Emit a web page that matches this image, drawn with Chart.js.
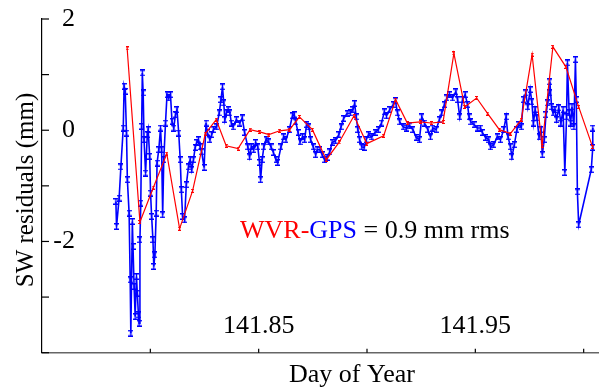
<!DOCTYPE html>
<html><head><meta charset="utf-8">
<script src="https://cdn.jsdelivr.net/npm/chart.js@4.4.1/dist/chart.umd.min.js"></script>
<style>html,body{margin:0;padding:0;background:#fff;overflow:hidden}canvas{display:block}</style>
</head><body>
<canvas id="c" width="604" height="387"></canvas>
<script>
// ---- data ----
const blueDays = [
141.7841,141.7844,141.7856,141.7864,141.7875,141.7879,141.7884,141.7890,141.7894,141.7902,
141.7907,141.7910,141.7917,141.7920,141.7925,141.7930,141.7936,141.7940,141.7945,141.7948,
141.7952,141.7956,141.7960,141.7963,141.7967,141.7971,141.7978,141.7986,141.7990,141.7997,
141.8001,141.8006,141.8012,141.8016,141.8021,141.8027,141.8031,141.8039,141.8047,141.8052,
141.8057,141.8062,141.8070,141.8077,141.8085,141.8093,141.8100,141.8108,141.8116,141.8123,
141.8131,141.8138,141.8143,141.8149,141.8158,
141.8166,141.8176,141.8184,141.8191,141.8199,141.8207,141.8214,141.8222,141.8230,141.8237,
141.8248,141.8257,141.8263,141.8275,141.8283,141.8291,141.8306,141.8318,141.8326,141.8333,
141.8339,141.8344,141.8351,141.8359,141.8367,141.8374,141.8382,141.8397,141.8413,141.8424,
141.8435,141.8450,141.8458,141.8466,141.8477,141.8486,141.8496,141.8504,141.8509,141.8516,
141.8524,141.8534,141.8546,141.8557,141.8568,141.8580,141.8588,141.8603,141.8615,141.8626,
141.8641,
141.8656,141.8664,141.8671,141.8682,141.8691,141.8702,141.8712,141.8721,141.8732,141.8740,
141.8752,141.8763,141.8770,141.8783,141.8793,141.8804,141.8816,141.8828,141.8839,141.8854,
141.8870,141.8880,141.8892,141.8908,141.8923,141.8935,141.8943,141.8950,141.8958,141.8966,
141.8976,141.8987,141.8996,141.9007,141.9022,141.9037,141.9052,
141.9067,141.9080,141.9090,141.9105,141.9121,141.9131,141.9141,141.9151,141.9167,141.9182,
141.9197,141.9212,141.9227,141.9242,141.9253,141.9265,141.9281,141.9293,141.9304,141.9319,
141.9334,141.9345,141.9357,141.9369,141.9380,141.9395,141.9410,141.9418,141.9428,141.9441,
141.9453,141.9464,141.9471,
141.9479,141.9494,141.9509,141.9524,141.9532,141.9547,141.9562,141.9570,141.9585,141.9601,
141.9616,141.9631,141.9642,141.9651,141.9662,141.9669,141.9680,141.9692,141.9699,141.9712,
141.9722,141.9733,141.9742,141.9753,141.9761,141.9768,141.9776,141.9784,141.9794,141.9803,
141.9809,141.9818,141.9826,141.9834,141.9840,141.9844,141.9852,141.9859,141.9867,141.9875,
141.9885,141.9895,141.9905,141.9913,141.9921,141.9925,141.9933,141.9940,141.9946,141.9955,
141.9962,141.9966,141.9971,141.9977,142.0035,142.0042,142.0042
];
const blueVals = [
-1.28,-1.73,-1.22,-0.66,0.04,0.79,0.70,-0.05,-0.89,-1.49,
-2.69,-3.65,-1.64,-2.09,-2.81,-3.35,-2.63,-2.93,-3.32,-3.47,
-1.97,-1.31,0.07,1.03,0.67,-0.17,-0.77,-0.08,0.01,-0.47,
-1.13,-1.55,-1.97,-2.45,-2.24,-1.49,-0.59,-0.35,0.04,-0.35,
-1.52,-0.53,0.13,0.64,0.58,0.64,0.16,0.04,0.28,0.37,
-0.05,-0.53,-1.07,-1.55,-1.61,
-0.98,-0.66,-0.53,-0.71,-0.53,-0.31,-0.22,-0.17,-0.30,-0.39,
-0.67,0.13,-0.04,-0.17,-0.08,0.01,0.06,0.31,0.55,0.78,
0.49,0.19,0.31,0.37,0.31,0.13,0.06,0.19,0.13,0.22,
-0.04,-0.30,-0.48,-0.30,-0.35,-0.22,-0.30,-0.58,-0.89,-0.53,
-0.30,-0.17,-0.21,-0.30,-0.40,-0.53,-0.58,-0.30,-0.12,-0.17,
0.01,
0.26,0.28,0.15,-0.04,-0.21,-0.12,-0.17,0.10,0.06,-0.17,
-0.30,-0.44,-0.35,-0.35,-0.44,-0.53,-0.49,-0.39,-0.22,-0.19,
-0.08,0.06,0.21,0.30,0.31,0.37,0.48,0.24,0.01,-0.17,
-0.30,-0.31,-0.17,-0.08,-0.12,-0.04,0.01,
0.13,0.33,0.26,0.37,0.46,0.53,0.31,0.15,0.06,0.04,
0.08,0.01,-0.13,-0.17,0.24,0.13,0.01,-0.12,0.04,0.01,
0.19,0.31,0.46,0.58,0.64,0.58,0.69,0.55,0.24,0.55,
0.64,0.46,0.24,
0.15,0.10,0.04,0.04,-0.04,-0.13,-0.17,-0.30,-0.26,-0.12,
-0.17,0.01,0.24,-0.12,-0.30,-0.48,-0.26,0.01,0.10,0.06,
0.55,0.67,0.42,0.73,0.51,0.13,0.37,0.22,-0.12,0.01,
-0.44,-0.17,0.28,0.49,0.67,0.87,0.42,0.31,0.37,0.19,
0.40,0.13,0.37,-0.76,0.24,1.21,0.31,0.13,0.42,0.06,
1.27,0.55,-1.11,-1.70,-0.71,-0.31,0.04
];
const redDays = [
141.7893,141.7952,141.8014,141.8076,141.8135,141.8195,141.8254,141.8304,141.8350,141.8405,
141.8460,141.8505,141.8547,141.8597,141.8643,141.8688,141.8748,141.8812,141.8871,141.8940,
141.8999,141.9077,141.9132,141.9186,141.9246,141.9296,141.9351,141.9401,141.9451,141.9506,
141.9557,141.9611,141.9662,141.9712,141.9762,141.9808,141.9858,141.9918,141.9977,142.0041
];
const redVals = [
1.47,-1.65,-1.03,-0.42,-1.77,-1.09,-0.06,0.19,-0.28,-0.33,
0.01,-0.03,-0.08,-0.01,0.01,0.24,0.01,-0.53,-0.22,0.26,
-0.24,-0.10,0.55,0.13,0.15,0.13,0.15,1.38,0.42,0.58,
0.30,0.01,-0.06,0.19,1.36,-0.28,1.50,1.14,0.42,-0.30
];
const xTickValues = [141.8, 141.85, 141.9, 141.95, 142.0];
const xTickLabels = ['', '141.85', '', '141.95', ''];
const yTickValues = [-4, -3, -2, -1, 0, 1, 2];
const yTickLabels = ['', '', '-2', '', '0', '', '2'];
const xTitle = 'Day of Year';
const yTitle = 'SW residuals (mm)';
const noteParts = [['WVR', '#ff0000'], ['-', '#ff0000'], ['GPS', '#0000ff'], [' = 0.9 mm rms', '#000000']];

// ---- presentation ----
const serif = "'Liberation Serif','Times New Roman',serif";

function marker(color, w, h, lw) {
  const c = document.createElement('canvas');
  c.width = w; c.height = h;
  const g = c.getContext('2d');
  g.strokeStyle = color; g.lineWidth = lw;
  g.beginPath();
  g.moveTo(w / 2, 0); g.lineTo(w / 2, h);
  g.moveTo(0, lw / 2); g.lineTo(w, lw / 2);
  g.moveTo(0, h - lw / 2); g.lineTo(w, h - lw / 2);
  g.stroke();
  return c;
}
const blueMark = marker('#0000ff', 5, 7, 1.4);
const redMark = marker('#ff0000', 3, 4, 1.1);

const resetPad = s => { s.paddingLeft = 0; s.paddingRight = 0; s.paddingTop = 0; s.paddingBottom = 0; };

const decor = {
  id: 'decor',
  afterDraw(chart) {
    const g = chart.ctx, a = chart.chartArea, xs = chart.scales.x, ys = chart.scales.y;
    g.save();
    g.strokeStyle = '#000'; g.lineWidth = 1.2;
    yTickValues.forEach(v => {
      const p = ys.getPixelForValue(v);
      g.beginPath(); g.moveTo(a.left, p); g.lineTo(a.left + 7, p); g.stroke();
    });
    xTickValues.forEach(v => {
      const p = xs.getPixelForValue(v);
      g.beginPath(); g.moveTo(p, a.bottom); g.lineTo(p, a.bottom - 4); g.stroke();
    });
    g.fillStyle = '#000';
    g.textBaseline = 'alphabetic';
    g.textAlign = 'center';
    g.font = '26px ' + serif;
    g.fillText(xTitle, 352, 382);
    g.textAlign = 'left';
    let x = 240;
    noteParts.forEach(([t, c]) => { g.fillStyle = c; g.fillText(t, x, 238); x += g.measureText(t).width; });
    g.fillStyle = '#000';
    g.translate(33, 190); g.rotate(-Math.PI / 2);
    g.textAlign = 'center';
    g.font = '25px ' + serif;
    g.fillText(yTitle, 0, 0);
    g.restore();
  }
};

new Chart(document.getElementById('c'), {
  type: 'line',
  data: {
    datasets: [
      { label: 'WVR', data: redDays.map((d, i) => ({ x: d, y: redVals[i] })),
        borderColor: '#ff0000', backgroundColor: '#ff0000', borderWidth: 1.2,
        pointStyle: redMark, pointRadius: 2, tension: 0, fill: false, order: 0 },
      { label: 'GPS', data: blueDays.map((d, i) => ({ x: d, y: blueVals[i] })),
        borderColor: '#0000ff', backgroundColor: '#0000ff', borderWidth: 1.6,
        pointStyle: blueMark, pointRadius: 2, tension: 0, fill: false, order: 1 }
    ]
  },
  options: {
    responsive: false, animation: false, events: [],
    layout: { padding: { left: 19.4, top: 19, right: 0, bottom: 12.1 } },
    plugins: { legend: { display: false }, tooltip: { enabled: false } },
    scales: {
      x: {
        type: 'linear', position: 'bottom', min: 141.75, max: 142.0068,
        afterBuildTicks: s => { s.ticks = xTickValues.map(v => ({ value: v })); },
        afterFit: resetPad,
        grid: { display: true, drawOnChartArea: false, drawTicks: false },
        border: { display: true, color: '#666', width: 1.5 },
        ticks: { mirror: true, padding: 11.1, autoSkip: false, maxRotation: 0, color: '#000',
                 font: { family: serif, size: 26 }, callback: (v, i) => xTickLabels[i] }
      },
      y: {
        type: 'linear', position: 'left', min: -4, max: 2,
        afterBuildTicks: s => { s.ticks = yTickValues.map(v => ({ value: v })); },
        afterFit: resetPad,
        grid: { display: true, drawOnChartArea: false, drawTicks: false },
        border: { display: true, color: '#000', width: 1.2 },
        ticks: { mirror: true, crossAlign: 'far', padding: 11.3, autoSkip: false, color: '#000',
                 font: { family: serif, size: 26 }, callback: (v, i) => yTickLabels[i] }
      }
    }
  },
  plugins: [decor]
});
</script>
</body></html>
